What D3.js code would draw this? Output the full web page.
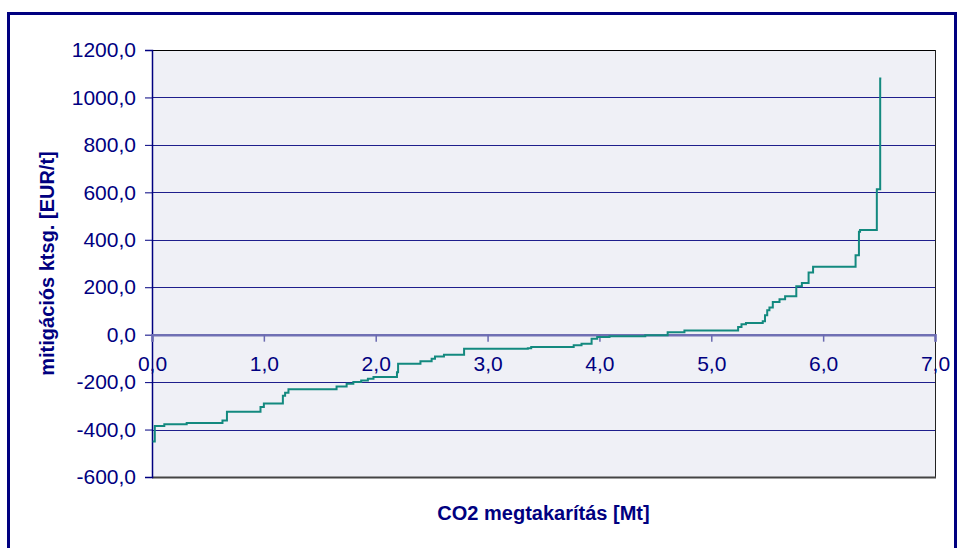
<!DOCTYPE html>
<html>
<head>
<meta charset="utf-8">
<script src="https://cdn.jsdelivr.net/npm/d3@7/dist/d3.min.js"></script>
<style>
  body { margin: 0; background: #fff; }
  text { font-family: Arial, "Liberation Sans", sans-serif; fill: #000080; }
</style>
</head>
<body>
<script>
// cumulative CO2 savings where each cost level starts [Mt]
var savings = [0.005, 0.025, 0.11, 0.31, 0.63, 0.67, 0.97, 1.00, 1.17, 1.19,
  1.22, 1.65, 1.74, 1.80, 1.87, 1.93, 1.98, 2.19, 2.20, 2.40,
  2.50, 2.53, 2.61, 2.79, 3.36, 3.39, 3.77, 3.84, 3.93, 3.98,
  4.09, 4.41, 4.61, 4.76, 5.24, 5.27, 5.31, 5.46, 5.48, 5.50,
  5.52, 5.55, 5.61, 5.66, 5.76, 5.81, 5.87, 5.91, 6.29, 6.32,
  6.33, 6.48, 6.51, 6.52];
// mitigation cost at each level [EUR/t]
var costs = [-450, -385, -378, -372, -362, -325, -305, -290, -257, -245,
  -230, -219, -207, -200, -193, -186, -178, -158, -123, -112,
  -101, -92, -85, -59, -57, -52, -45, -38, -17, -10,
  -7, -2, 10, 18, 32, 44, 49, 57, 82, 103,
  114, 138, 149, 162, 204, 218, 262, 286, 335, 434,
  441, 613, 1080, 1080];
var xTicks = [0, 1, 2, 3, 4, 5, 6, 7];
var yTicks = [-600, -400, -200, 0, 200, 400, 600, 800, 1000, 1200];

var points = savings.map(function(s, i) {
  return {x: s, y: costs[i]};
});

var width = 960, height = 548;
var plot = {left: 152, right: 935, top: 50, bottom: 477};
var fmt = function(v) {
  return d3.format('.1f')(v).replace('.', ',').replace('−', '-');
};

var svg = d3.select('body').append('svg')
  .attr('width', width)
  .attr('height', height);

// outer chart frame
svg.append('rect')
  .attr('x', 8.5).attr('y', 13.5)
  .attr('width', 947).attr('height', 560)
  .attr('fill', 'none')
  .attr('stroke', '#000080')
  .attr('stroke-width', 3);

var x = d3.scaleLinear().domain([0, 7]).range([plot.left, plot.right]);
var y = d3.scaleLinear().domain([-600, 1200]).range([plot.bottom, plot.top]);

// plot area
svg.append('rect')
  .attr('x', plot.left).attr('y', plot.top)
  .attr('width', plot.right - plot.left)
  .attr('height', plot.bottom - plot.top)
  .attr('fill', '#eff0f6');

// gridlines
svg.append('g')
  .selectAll('line')
  .data(yTicks.filter(function(d) { return d !== 0 && d !== -600 && d !== 1200; }))
  .enter()
  .append('line')
  .attr('x1', plot.left).attr('x2', plot.right)
  .attr('y1', function(d) { return Math.round(y(d)) + 0.5; })
  .attr('y2', function(d) { return Math.round(y(d)) + 0.5; })
  .attr('stroke', '#1e1e8c')
  .attr('stroke-width', 1);

// plot border: top and right black, bottom grey
svg.append('line')
  .attr('x1', plot.left).attr('x2', plot.right + 1)
  .attr('y1', plot.top + 0.5).attr('y2', plot.top + 0.5)
  .attr('stroke', '#000');
svg.append('line')
  .attr('x1', plot.right + 0.5).attr('x2', plot.right + 0.5)
  .attr('y1', plot.top).attr('y2', plot.bottom)
  .attr('stroke', '#222');
svg.append('line')
  .attr('x1', plot.left).attr('x2', plot.right + 1)
  .attr('y1', plot.bottom + 0.5).attr('y2', plot.bottom + 0.5)
  .attr('stroke', '#444')
  .attr('stroke-width', 2);

// y axis
var yAxis = svg.append('g')
  .attr('transform', 'translate(' + plot.left + ',0)')
  .call(d3.axisLeft(y).tickValues(yTicks).tickFormat(fmt).tickSize(7).tickPadding(9));
yAxis.select('.domain').attr('stroke', '#000080').attr('stroke-width', 1.5);
yAxis.selectAll('.tick line').attr('stroke', '#000080');
yAxis.selectAll('.tick text')
  .style('font-size', '21px')
  .attr('fill', '#000080');

// x axis along cost = 0
var xAxis = svg.append('g')
  .attr('transform', 'translate(0,' + y(0) + ')')
  .call(d3.axisBottom(x).tickValues(xTicks).tickFormat(fmt).tickSize(7).tickPadding(14));
xAxis.select('.domain').attr('stroke', '#7070b4').attr('stroke-width', 2.5);
xAxis.selectAll('.tick line').attr('stroke', '#6a6ab0').attr('stroke-width', 1.5);
xAxis.selectAll('.tick text')
  .style('font-size', '21px')
  .attr('fill', '#000080');

// step curve
var line = d3.line()
  .x(function(d) { return x(d.x); })
  .y(function(d) { return y(d.y); })
  .curve(d3.curveStepAfter);

svg.append('path')
  .datum(points)
  .attr('d', line)
  .attr('fill', 'none')
  .attr('stroke', '#13897f')
  .attr('stroke-width', 2);

// axis titles
svg.append('text')
  .attr('x', (plot.left + plot.right) / 2)
  .attr('y', 520)
  .attr('text-anchor', 'middle')
  .style('font-size', '20px')
  .style('font-weight', 'bold')
  .text('CO2 megtakarítás [Mt]');

svg.append('text')
  .attr('transform', 'translate(54,' + (plot.top + plot.bottom) / 2 + ') rotate(-90)')
  .attr('text-anchor', 'middle')
  .style('font-size', '20px')
  .style('font-weight', 'bold')
  .text('mitigációs ktsg. [EUR/t]');
</script>
</body>
</html>
